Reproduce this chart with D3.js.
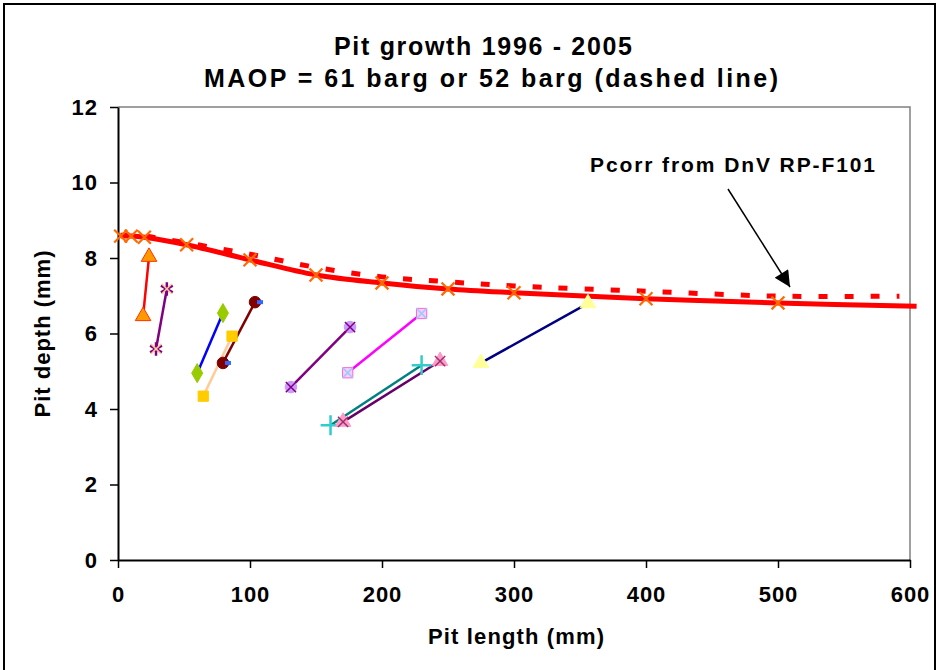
<!DOCTYPE html>
<html>
<head>
<meta charset="utf-8">
<script src="https://cdn.jsdelivr.net/npm/d3@7"></script>
<style>
  body { margin: 0; background: #fff; }
  text { font-family: "Liberation Sans", Arial, sans-serif; font-weight: bold; fill: #000; }
</style>
</head>
<body>
<div id="chart"></div>
<script>
// Pcorr curves from DnV RP-F101 (61 barg solid, 52 barg dashed)
var curveLen = [2, 10, 20, 52, 100, 150, 200, 250, 300, 400, 500, 605];
var curveDepth61 = [8.58, 8.58, 8.55, 8.35, 7.95, 7.55, 7.34, 7.18, 7.08, 6.92, 6.81, 6.72];
var dashLen = [2, 10, 20, 52, 100, 150, 200, 250, 300, 400, 500, 592];
var dashDepth52 = [8.6, 8.6, 8.58, 8.4, 8.1, 7.75, 7.5, 7.37, 7.26, 7.12, 6.99, 6.99];

// pits: 1996 measurement -> 2005 measurement
var pitLen1996 = [19, 28.8, 60, 64.6, 79.5, 131, 174, 161, 170.5, 275];
var pitDepth1996 = [6.46, 5.59, 4.95, 4.34, 5.22, 4.58, 4.96, 3.57, 3.66, 5.22];
var pitLen2005 = [23.5, 37, 79.5, 86.4, 103.8, 175.8, 230, 230, 244, 356];
var pitDepth2005 = [8.03, 7.18, 6.54, 5.93, 6.83, 6.17, 6.53, 5.16, 5.27, 6.8];

var xTicks = [0, 100, 200, 300, 400, 500, 600];
var yTicks = [0, 2, 4, 6, 8, 10, 12];

// look of each pit
var pitStyle = [
  {line: "#ff0000", sym: d3.symbolTriangle, fill: "#ff9900", edge: "#ff3300"},
  {line: "#800080", sym: d3.symbolAsterisk, fill: "none", edge: "#800080", edge2: "#ffcc99"},
  {line: "#0000ff", sym: d3.symbolDiamond, fill: "#99cc00", edge: "#99cc00"},
  {line: "#ffcc99", sym: d3.symbolSquare, fill: "#ffcc00", edge: "#ffcc00"},
  {line: "#800000", sym: d3.symbolCircle, fill: "#800000", edge: "#800000", tick: "#3366ff"},
  {line: "#800080", sym: d3.symbolCircle, fill: "#cc99ff", edge: "#cc99ff", edge2: "#800080"},
  {line: "#ff00ff", sym: d3.symbolSquare, fill: "#ffccff", edge: "#ff66cc", edge2: "#99ccff"},
  {line: "#008080", sym: d3.symbolPlus, fill: "none", edge: "#33cccc"},
  {line: "#660066", sym: d3.symbolTriangle, fill: "#ff99cc", edge: "#ff99cc", edge2: "#993366"},
  {line: "#000080", sym: d3.symbolTriangle, fill: "#ffff99", edge: "#ffff99"}
];

var W = 939, H = 670;
var x = d3.scaleLinear().domain([0, 600]).range([118, 910]);
var y = d3.scaleLinear().domain([0, 12]).range([560, 107]);

var svg = d3.select("#chart").append("svg")
    .attr("width", W).attr("height", H);

// outer frame
svg.append("rect")
    .attr("x", 4).attr("y", 4).attr("width", 931).attr("height", 700)
    .attr("fill", "none").attr("stroke", "#000").attr("stroke-width", 2);

// plot area top/right border
svg.append("path")
    .attr("d", "M" + x(0) + "," + y(12) + "H" + x(600) + "V" + y(0))
    .attr("fill", "none").attr("stroke", "#808080").attr("stroke-width", 1.5);

// text helper: stretch to the width seen in the picture
function label(px, py, size, txt, len) {
  return svg.append("text").attr("x", px).attr("y", py).attr("text-anchor", "middle")
      .style("font-size", size + "px")
      .attr("textLength", len).attr("lengthAdjust", "spacing")
      .text(txt);
}

// titles
label(483, 55, 25, "Pit growth 1996 - 2005", 298);
label(491, 87, 25, "MAOP = 61 barg or 52 barg (dashed line)", 574);

// axes
var yAxis = d3.axisLeft(y).tickValues(yTicks).tickSize(8).tickSizeOuter(0).tickPadding(12);
var xAxis = d3.axisBottom(x).tickValues(xTicks).tickSize(8).tickSizeOuter(0).tickPadding(18);

var gy = svg.append("g").attr("transform", "translate(" + x(0) + ",0)").call(yAxis);
var gx = svg.append("g").attr("transform", "translate(0," + y(0) + ")").call(xAxis);
[gx, gy].forEach(function(g) {
  g.select(".domain").attr("stroke", "#000").attr("stroke-width", 2);
  g.selectAll(".tick line").attr("stroke", "#000").attr("stroke-width", 1.5);
  g.selectAll(".tick text").attr("font-family", null)
      .style("font-size", "22px").style("letter-spacing", "1px");
});

label(516, 644, 22, "Pit length (mm)", 176);
label(0, 0, 22, "Pit depth (mm)", 167)
    .attr("transform", "translate(50,334) rotate(-90)");

// Pcorr curves
var line = d3.line().x(function(d) { return x(d[0]); }).y(function(d) { return y(d[1]); })
    .curve(d3.curveCatmullRom);

var dashData = dashLen.map(function(v, i) { return [v, dashDepth52[i]]; });
svg.append("path").datum(dashData).attr("d", line)
    .attr("fill", "none").attr("stroke", "#ff0000").attr("stroke-width", 5)
    .attr("stroke-dasharray", "9,17");

var curveData = curveLen.map(function(v, i) { return [v, curveDepth61[i]]; });
svg.append("path").datum(curveData).attr("d", line)
    .attr("fill", "none").attr("stroke", "#ff0000").attr("stroke-width", 5);

svg.append("g").selectAll("path").data(curveData.slice(0, curveData.length - 1))
  .enter().append("path")
    .attr("transform", function(d) { return "translate(" + x(d[0]) + "," + y(d[1]) + ")"; })
    .attr("d", d3.symbol(d3.symbolTimes, 110))
    .attr("fill", "none").attr("stroke", "#ff6a00").attr("stroke-width", 2.2);

// pit growth segments
var pits = pitLen1996.map(function(v, i) {
  return {x0: v, y0: pitDepth1996[i], x1: pitLen2005[i], y1: pitDepth2005[i], s: pitStyle[i]};
});

var gp = svg.append("g");
gp.selectAll("line").data(pits).enter().append("line")
    .attr("x1", function(d) { return x(d.x0); }).attr("y1", function(d) { return y(d.y0); })
    .attr("x2", function(d) { return x(d.x1); }).attr("y2", function(d) { return y(d.y1); })
    .attr("stroke", function(d) { return d.s.line; }).attr("stroke-width", 2.5);

var ends = [];
pits.forEach(function(p) {
  ends.push({x: p.x0, y: p.y0, s: p.s});
  ends.push({x: p.x1, y: p.y1, s: p.s});
});

var mk = gp.selectAll("g.mk").data(ends).enter().append("g")
    .attr("class", "mk")
    .attr("transform", function(d) { return "translate(" + x(d.x) + "," + y(d.y) + ")"; });

mk.append("path")
    .attr("d", function(d) {
      var sz = d.s.sym === d3.symbolAsterisk || d.s.sym === d3.symbolPlus ? 130 : 105;
      return d3.symbol(d.s.sym, sz)();
    })
    .attr("fill", function(d) { return d.s.fill; })
    .attr("stroke", function(d) { return d.s.edge; })
    .attr("stroke-width", function(d) { return d.s.fill === "none" ? 2.5 : 1; });

mk.filter(function(d) { return d.s.edge2; }).append("path")
    .attr("d", d3.symbol(d3.symbolTimes, 70))
    .attr("fill", "none")
    .attr("stroke", function(d) { return d.s.edge2; })
    .attr("stroke-width", 1.5);

mk.filter(function(d) { return d.s.tick; }).append("rect")
    .attr("x", 2).attr("y", -2).attr("width", 6).attr("height", 4)
    .attr("fill", function(d) { return d.s.tick; });

// annotation
svg.append("text").attr("x", 590).attr("y", 172)
    .style("font-size", "21px")
    .attr("textLength", 285).attr("lengthAdjust", "spacing")
    .text("Pcorr from DnV RP-F101");

svg.append("defs").append("marker")
    .attr("id", "head").attr("viewBox", "0 0 10 10")
    .attr("refX", 10).attr("refY", 5)
    .attr("markerWidth", 20).attr("markerHeight", 16)
    .attr("markerUnits", "userSpaceOnUse")
    .attr("orient", "auto")
  .append("path").attr("d", "M0,0L10,5L0,10Z").attr("fill", "#000");

svg.append("line")
    .attr("x1", 728).attr("y1", 189).attr("x2", 790).attr("y2", 287)
    .attr("stroke", "#000").attr("stroke-width", 1.5)
    .attr("marker-end", "url(#head)");
</script>
</body>
</html>
